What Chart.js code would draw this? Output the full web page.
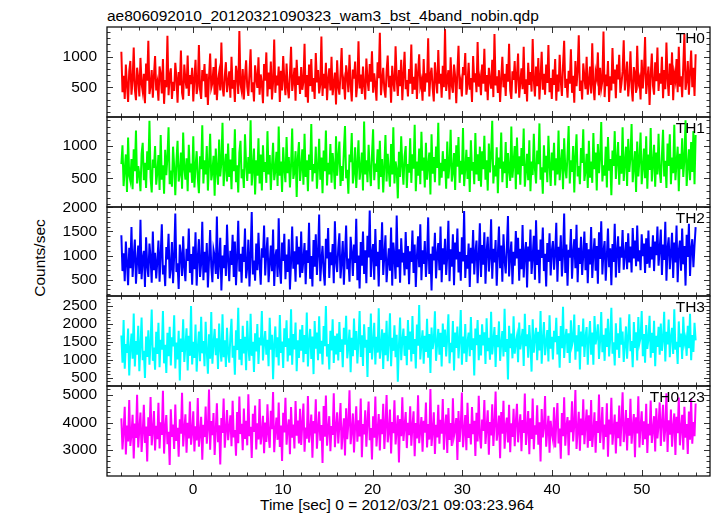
<!DOCTYPE html>
<html>
<head>
<meta charset="utf-8">
<script src="https://cdn.jsdelivr.net/npm/chart.js@4.4.1/dist/chart.umd.min.js"></script>
<style>
    body { margin: 0; background: #fff; }
    #wrap { position: relative; width: 717px; height: 516px; overflow: hidden; background: #fff;
            font-family: "Liberation Sans", Arial, Helvetica, sans-serif; font-size: 15.5px; color: #000; }
    #wrap canvas { position: absolute; left: 0; }
    .txt { position: absolute; line-height: 15.5px; white-space: nowrap; }
</style>
</head>
<body>
<div id="wrap">
    <div class="txt" style="left:107px; top:8px;">ae806092010_20120321090323_wam3_bst_4band_nobin.qdp</div>
    <div class="txt" style="left:40px; top:258px; transform: translate(-50%, -50%) rotate(-90deg);">Counts/sec</div>
    <div class="txt" style="left:260px; top:497px;">Time [sec] 0 = 2012/03/21 09:03:23.964</div>
</div>
<script>
// time axis: samples spread evenly from -8 s to 56 s
const tStart = -8;
const tEnd = 56;
const xMin = -9.6;
const xMax = 57.6;
const xTicks = [0, 10, 20, 30, 40, 50];

const panelNames = ['TH0', 'TH1', 'TH2', 'TH3', 'TH0123'];
const panelColors = ['#ff0000', '#00ff00', '#0000ff', '#00ffff', '#ff00ff'];

// count rates (counts/sec) per band
const th0Rate = [
    1080, 420, 690, 310, 870, 540, 260, 760, 930, 380, 610, 1150, 470, 290, 820, 650, 350, 980, 560, 430, 720, 240, 890, 610, 1260, 390, 520, 780, 330, 690, 1010, 450,
    570, 280, 840, 710, 400, 960, 230, 620, 500, 1340, 370, 680, 810, 310, 590, 440, 900, 660, 250, 750, 530, 1100, 410, 300, 870, 620, 480, 1020, 360, 700, 550, 820,
    270, 640, 950, 390, 520, 1190, 460, 310, 780, 600, 880, 340, 720, 210, 660, 1050, 490, 570, 830, 380, 970, 290, 610, 740, 450, 1230, 520, 350, 680, 910, 420, 590,
    760, 330, 1000, 480, 620, 260, 850, 700, 390, 1420, 550, 440, 800, 300, 670, 940, 510, 360, 730, 1120, 420, 580, 270, 860, 650, 490, 990, 380, 710, 560, 240, 880,
    610, 1070, 350, 740, 470, 920, 300, 580, 1280, 410, 690, 530, 840, 260, 770, 450, 1010, 620, 370, 890, 500, 320, 710, 1160, 440, 600, 820, 280, 950, 540, 680, 390,
    830, 460, 590, 1210, 340, 700, 250, 870, 520, 960, 430, 650, 310, 1060, 580, 780, 400, 540, 1330, 360, 720, 480, 900, 290, 630, 810, 450, 1000, 370, 560, 740, 220,
    940, 510, 380, 720, 1140, 470, 600, 300, 860, 690, 420, 1030, 550, 270, 790, 640, 920, 340, 570, 1250, 480, 710, 390, 840, 530, 300, 970, 620, 440, 880, 590, 1090,
    410, 730, 540, 280, 910, 650, 1390, 370, 600, 820, 460, 330, 760, 1020, 500, 690, 250, 850, 580, 430, 1170, 640, 360, 780, 520, 950, 290, 700, 1080, 470, 620, 350,
    800, 560, 1200, 390, 670, 460, 890, 310, 740, 1040, 520, 610, 280, 960, 430, 730, 580, 1300, 350, 690, 820, 490, 270, 910, 640, 400, 1110, 560, 720, 330, 850, 500,
    1450, 440, 620, 780, 300, 990, 530, 410, 870, 680, 240, 760, 1180, 470, 590, 350, 830, 700, 1060, 380, 550, 900, 460, 650, 260, 1010, 580, 730, 420, 1240, 510, 640,
    370, 870, 560, 1130, 430, 700, 290, 820, 610, 480, 950, 340, 1370, 530, 680, 410, 780, 260, 640, 1000, 500, 720, 360, 880, 590, 1210, 450, 310, 760, 620, 930, 400,
    690, 1050, 330, 580, 810, 470, 1160, 390, 630, 270, 900, 540, 750, 430, 1290, 610, 350, 840, 520, 980, 300, 660, 1080, 460, 720, 380, 870, 570, 1190, 420, 650, 310,
    790, 540, 960, 280, 710, 430, 1030, 600, 360, 860, 1260, 490, 640, 330, 770, 560, 1120, 410, 690, 250, 930, 520, 780, 1350, 440, 610, 300, 890, 670, 470, 1000, 380,
    580, 840, 400, 1220, 530, 290, 750, 650, 1070, 370, 820, 480, 600, 1410, 340, 710, 520, 930, 260, 680, 450, 1140, 560, 790, 320, 870, 630, 1030, 410, 560, 760, 1270,
    450, 680, 920, 350, 610, 1090, 500, 270, 830, 720, 410, 1180, 560, 640, 300, 950, 480, 760, 1320, 390, 620, 840, 210, 700, 1050, 530, 380, 910, 600, 1150, 440, 730,
    560, 1000, 320, 780, 470, 1230, 640, 360, 890, 540, 1070, 290, 720, 610, 960, 420, 1160, 510, 680, 340, 850, 1380, 460, 600, 930, 380, 740, 1100, 500, 820, 360, 1040
];
const th1Rate = [
    720, 1010, 380, 640, 870, 290, 1130, 540, 460, 800, 330, 950, 610, 1240, 420, 690, 560, 300, 880, 1050, 470, 740, 350, 920, 630, 1390, 510, 280, 790, 660, 1000, 400,
    590, 860, 320, 1170, 480, 700, 260, 940, 550, 830, 1290, 410, 620, 370, 990, 680, 240, 760, 1080, 450, 570, 900, 340, 1210, 650, 480, 810, 300, 1020, 590, 730, 430,
    1150, 360, 680, 920, 510, 270, 840, 640, 1320, 420, 780, 560, 1000, 310, 710, 1190, 470, 590, 850, 230, 960, 620, 400, 1100, 530, 740, 1360, 380, 670, 880, 450, 1040,
    520, 790, 330, 970, 610, 1260, 440, 700, 280, 900, 1080, 500, 640, 350, 1180, 720, 460, 830, 570, 1400, 390, 650, 960, 250, 780, 540, 1120, 420, 870, 310, 1010, 600,
    750, 430, 1230, 560, 860, 320, 690, 1050, 470, 620, 910, 380, 1300, 540, 760, 290, 980, 640, 440, 1140, 580, 830, 360, 700, 1270, 490, 600, 920, 210, 810, 1060, 460,
    670, 950, 400, 1190, 520, 780, 300, 870, 630, 1340, 450, 720, 580, 990, 340, 660, 1110, 480, 820, 270, 930, 610, 1240, 390, 740, 560, 1030, 430, 890, 680, 330, 1150,
    540, 820, 1070, 380, 690, 460, 940, 1310, 500, 630, 260, 870, 750, 1200, 420, 590, 980, 350, 720, 1090, 480, 640, 900, 310, 1380, 560, 780, 440, 1020, 650, 380, 860,
    1260, 470, 730, 600, 950, 330, 1080, 520, 800, 280, 690, 1170, 450, 880, 610, 370, 1030, 560, 1290, 420, 760, 640, 190, 910, 520, 1150, 690, 400, 840, 1000, 350, 720,
    590, 1120, 430, 870, 650, 1330, 300, 760, 540, 960, 410, 1220, 620, 820, 360, 1050, 480, 700, 900, 250, 1180, 570, 830, 440, 990, 660, 1360, 390, 740, 510, 920, 610,
    800, 340, 1070, 500, 710, 1250, 450, 600, 890, 320, 1010, 680, 1140, 430, 770, 560, 1280, 380, 650, 940, 490, 830, 290, 1090, 620, 750, 410, 1200, 560, 870, 460, 990,
    370, 920, 640, 1160, 480, 780, 310, 1040, 590, 860, 1390, 420, 700, 530, 980, 270, 820, 650, 1210, 440, 760, 580, 1060, 350, 890, 630, 460, 1300, 510, 740, 1000, 330,
    1130, 560, 840, 400, 970, 690, 1270, 370, 610, 880, 470, 1090, 300, 760, 550, 1190, 640, 420, 930, 720, 1350, 480, 670, 260, 1010, 590, 850, 440, 1160, 700, 380, 900,
    620, 1050, 390, 810, 560, 1240, 470, 730, 950, 330, 1120, 650, 500, 870, 1310, 420, 780, 600, 1000, 280, 840, 1180, 530, 690, 410, 970, 740, 1260, 460, 620, 880, 350,
    1080, 510, 760, 430, 1200, 640, 900, 310, 1030, 580, 820, 1370, 450, 700, 540, 990, 360, 1140, 620, 800, 240, 930, 690, 1230, 490, 770, 1060, 400, 850, 570, 1290, 460,
    740, 990, 380, 1110, 600, 830, 1340, 440, 680, 920, 290, 1070, 530, 790, 1210, 410, 660, 960, 500, 1150, 340, 870, 630, 1280, 450, 720, 1020, 370, 900, 560, 1190, 620,
    430, 860, 1250, 530, 770, 350, 1040, 690, 1180, 410, 820, 580, 1330, 470, 740, 990, 300, 880, 640, 1120, 520, 790, 1400, 380, 680, 950, 470, 1060, 600, 1230, 410, 1170
];
const th2Rate = [
    1420, 680, 1050, 470, 1290, 850, 390, 1160, 740, 1590, 560, 980, 1330, 420, 870, 1210, 620, 1740, 510, 940, 1100, 350, 1380, 790, 560, 1250, 960, 440, 1500, 700, 1060, 530,
    880, 1310, 460, 1020, 1650, 610, 800, 370, 1180, 920, 1450, 530, 740, 1280, 430, 990, 1870, 660, 840, 310, 1230, 1010, 580, 1400, 760, 470, 1140, 890, 1560, 640, 1030, 400,
    1190, 720, 1480, 380, 960, 1340, 560, 830, 1700, 490, 1080, 650, 1260, 340, 910, 1530, 770, 450, 1120, 990, 620, 1810, 520, 860, 1370, 280, 1000, 740, 1220, 580, 1640, 900,
    470, 1100, 810, 1430, 560, 1290, 390, 950, 1720, 670, 1040, 440, 1180, 870, 1560, 530, 760, 1330, 360, 1010, 1900, 610, 900, 480, 1250, 700, 1470, 820, 400, 1150, 960, 1620,
    590, 1060, 1380, 450, 830, 1210, 680, 1540, 370, 980, 1130, 560, 1770, 740, 420, 1270, 890, 1450, 510, 1020, 660, 1340, 300, 870, 1600, 730, 1090, 460, 1400, 820, 1180, 550,
    1500, 640, 920, 1260, 410, 1110, 850, 1680, 520, 990, 360, 1320, 770, 1440, 600, 1050, 1850, 470, 900, 1200, 680, 380, 1350, 940, 1570, 540, 1070, 800, 1240, 430, 1710, 870,
    660, 1160, 1460, 530, 880, 1300, 400, 1020, 1620, 720, 940, 460, 1390, 1080, 580, 1230, 850, 1760, 490, 1000, 320, 1280, 790, 1500, 620, 1110, 430, 1410, 960, 1930, 560, 1040,
    1240, 500, 1550, 780, 1080, 360, 1320, 910, 1690, 600, 1000, 1420, 450, 840, 1150, 690, 1580, 380, 1270, 980, 520, 1830, 760, 1130, 440, 1360, 860, 1060, 590, 1490, 720, 1200,
    410, 1090, 870, 1520, 640, 1230, 350, 990, 1400, 760, 1650, 490, 1110, 830, 1300, 560, 950, 1790, 620, 1040, 280, 1190, 900, 1470, 530, 1020, 1260, 700, 1600, 450, 1150, 820,
    1350, 600, 1000, 1720, 470, 1130, 770, 1440, 390, 1270, 920, 1560, 650, 1080, 480, 1380, 880, 1920, 540, 1010, 730, 1250, 350, 1160, 840, 1530, 610, 1060, 1310, 430, 990, 1670,
    560, 1220, 810, 1480, 420, 1090, 1390, 670, 970, 1750, 520, 1140, 860, 1320, 380, 1030, 1600, 740, 1210, 460, 1440, 900, 630, 1170, 1820, 570, 1000, 1290, 410, 1080, 790, 1510,
    940, 1370, 480, 1140, 720, 1630, 550, 1060, 1280, 340, 1190, 880, 1540, 620, 980, 1410, 500, 1730, 810, 1120, 430, 1330, 950, 1580, 680, 1040, 360, 1260, 870, 1460, 590, 1100,
    1300, 710, 1050, 1680, 460, 1180, 890, 1420, 570, 1010, 1870, 640, 1230, 380, 1120, 960, 1550, 520, 1070, 1340, 740, 1640, 450, 1160, 830, 1390, 600, 1020, 1500, 700, 1260, 430,
    1130, 820, 1590, 540, 1040, 1360, 690, 1200, 420, 1480, 930, 1710, 610, 1090, 1300, 480, 1000, 1560, 760, 1150, 390, 1240, 870, 1660, 550, 1080, 1400, 640, 1190, 960, 1530, 710,
    1020, 1280, 720, 1460, 860, 1190, 650, 1570, 940, 1310, 780, 1620, 880, 1110, 700, 1440, 990, 1250, 640, 1360, 830, 1520, 750, 1180, 920, 1420, 680, 1290, 1010, 1600, 790, 1140,
    1540, 600, 1230, 910, 1700, 480, 1150, 1380, 720, 1050, 1470, 540, 1270, 860, 1620, 450, 1100, 1310, 690, 1560, 820, 1200, 380, 1430, 970, 1660, 580, 1140, 1340, 760, 1210, 1590
];
const th3Rate = [
    1680, 920, 2110, 750, 1440, 1190, 1870, 560, 1310, 1730, 1030, 2290, 810, 1520, 1140, 1950, 680, 1400, 2180, 990, 1250, 490, 1650, 1080, 1820, 860, 1490, 2400, 970, 1340, 720, 1780,
    1160, 2030, 790, 1560, 1280, 2360, 900, 1420, 630, 1750, 1100, 1920, 840, 1630, 1370, 2240, 760, 1480, 1010, 1810, 420, 1590, 1220, 2130, 940, 1390, 1880, 700, 1670, 1110, 2500, 870,
    1500, 1050, 1980, 670, 1330, 1790, 960, 2200, 1180, 1520, 820, 2060, 1240, 610, 1710, 1030, 2330, 890, 1450, 1860, 1130, 1600, 740, 2010, 1300, 950, 2270, 1070, 1540, 800, 1890, 1200,
    920, 1660, 2140, 1060, 1390, 580, 1820, 1270, 2450, 1000, 1580, 850, 1950, 1180, 1640, 710, 2090, 1350, 970, 2280, 1110, 1500, 660, 1740, 1230, 2000, 880, 1620, 1400, 2360, 980, 1470,
    1800, 1140, 1560, 820, 2170, 1280, 1700, 460, 1450, 1930, 1070, 1630, 840, 2250, 1190, 1510, 770, 1880, 1360, 2100, 950, 1600, 1120, 2410, 860, 1720, 1290, 2040, 680, 1540, 1050, 1840,
    1250, 1970, 930, 1690, 1160, 2320, 810, 1490, 1860, 1020, 1650, 600, 2080, 1310, 1760, 990, 2210, 1170, 1530, 870, 1940, 1380, 2500, 1090, 1440, 730, 1810, 1260, 2130, 910, 1670, 1150,
    1730, 980, 2050, 1220, 1570, 790, 1890, 1420, 2230, 1040, 1360, 1840, 650, 1610, 1100, 2150, 1270, 1800, 900, 1510, 2360, 1080, 1680, 830, 1990, 1340, 1560, 520, 1910, 1190, 2290, 1010,
    1460, 2030, 870, 1640, 1200, 2440, 1030, 1370, 1850, 740, 1750, 1130, 2090, 960, 1500, 2300, 820, 1610, 1250, 1960, 1070, 1700, 390, 1420, 2180, 990, 1540, 1870, 1110, 1660, 850, 2110,
    1280, 1790, 950, 2220, 1160, 1580, 760, 1980, 1390, 2530, 1010, 1450, 1820, 890, 1670, 1220, 2140, 1060, 1720, 630, 1900, 1300, 1530, 2350, 970, 1440, 1860, 1140, 1750, 810, 2010, 1360,
    1840, 1090, 1620, 2270, 900, 1470, 1210, 2080, 700, 1760, 1330, 1930, 1040, 1560, 2390, 860, 1650, 1180, 2000, 940, 1500, 1760, 1100, 2190, 1270, 1600, 560, 1870, 1410, 2110, 990, 1700,
    1120, 1990, 1400, 1770, 880, 2160, 1240, 1610, 1000, 2340, 1150, 1520, 1910, 800, 1690, 1350, 2070, 970, 1460, 1800, 1090, 2420, 1220, 1580, 450, 1950, 1320, 1730, 1040, 2210, 1170, 1500,
    1670, 930, 2040, 1290, 1550, 1860, 830, 2280, 1380, 1710, 1060, 1970, 1440, 670, 2130, 1200, 1620, 1890, 990, 1780, 1260, 2360, 890, 1560, 2050, 1130, 1480, 1830, 950, 2240, 1310, 1640,
    1010, 1810, 1490, 2170, 1150, 1660, 780, 1940, 1320, 2480, 1050, 1590, 1860, 1190, 1740, 910, 2100, 1400, 1540, 2260, 1000, 1680, 1230, 1970, 730, 1790, 1370, 2150, 1080, 1630, 1910, 860,
    1580, 2080, 1140, 1760, 860, 2220, 1430, 1650, 1990, 1020, 1530, 2330, 1210, 1700, 970, 1880, 1360, 2140, 1090, 1600, 2450, 1170, 1490, 840, 2020, 1280, 1740, 1050, 2180, 1420, 1790, 940,
    1400, 1930, 1030, 1650, 2270, 1240, 1520, 790, 2050, 1330, 1770, 980, 2190, 1460, 1610, 2360, 1100, 1720, 920, 1970, 1300, 1580, 2230, 1060, 1750, 1190, 2090, 820, 1670, 1360, 1920, 1140,
    2010, 1250, 1560, 2340, 950, 1780, 1430, 2120, 1070, 1640, 1890, 1160, 2410, 1280, 1500, 880, 2070, 1350, 1730, 1020, 2200, 1460, 1600, 1110, 1950, 1320, 2280, 990, 1690, 1220, 2030, 1540
];
const th0123Rate = [
    4150, 3020, 3680, 4570, 2840, 3890, 3310, 4820, 3150, 3570, 4280, 2690, 3960, 3440, 5010, 3090, 3750, 4360, 2930, 3620, 4640, 3260, 3850, 2580, 4190, 3510, 4930, 3170, 3700, 4420, 2980, 3880,
    3390, 4720, 3060, 4010, 3550, 5150, 2870, 3790, 4270, 3210, 3660, 2460, 4480, 3480, 3930, 3040, 4650, 3330, 3810, 2760, 4120, 3590, 5080, 3130, 3720, 4300, 2900, 3990, 3420, 4760, 3190, 3640,
    4410, 2950, 3860, 3350, 4890, 3120, 3600, 4210, 2650, 3920, 3470, 4580, 3230, 3780, 5200, 3010, 4050, 3540, 4340, 2820, 3740, 4700, 3280, 3900, 2470, 4160, 3620, 4870, 3080, 3710, 4450, 3360,
    3810, 4260, 3140, 4790, 3460, 3730, 2790, 4380, 3250, 4940, 3580, 3950, 2990, 4510, 3400, 4060, 3170, 5030, 3500, 3840, 2710, 4320, 3660, 4620, 3020, 3970, 3380, 4850, 3200, 3600, 4240, 2880,
    4000, 3290, 4660, 3560, 3080, 4430, 3760, 5110, 2920, 3690, 4180, 3370, 4730, 3110, 3890, 2600, 4350, 3640, 4900, 3190, 3780, 4110, 2850, 4560, 3450, 3930, 3060, 4780, 3520, 4070, 3240, 4500,
    3180, 3950, 4690, 2940, 3820, 3410, 4960, 3270, 3690, 4290, 2720, 4050, 3600, 4840, 3050, 3770, 4400, 3340, 3910, 2530, 4600, 3480, 4980, 3160, 3750, 4230, 2960, 3870, 3550, 5060, 3100, 3830,
    4370, 3240, 3890, 4710, 3020, 3640, 4150, 2800, 4520, 3390, 3960, 5170, 3210, 3700, 4330, 2910, 3850, 4590, 3300, 4080, 3490, 4870, 2740, 3940, 3570, 4440, 3120, 4010, 4760, 3360, 3800, 2660,
    4230, 3450, 4940, 3130, 3720, 4310, 2980, 4120, 3580, 4680, 3040, 3880, 5000, 3280, 3670, 4470, 2870, 4020, 3610, 4810, 3200, 3760, 4260, 2550, 4130, 3500, 4920, 3330, 3860, 4380, 3070, 3990,
    3540, 4590, 3160, 3870, 4410, 2770, 3980, 3420, 4990, 3250, 3710, 4200, 2940, 4060, 3630, 4730, 3090, 3940, 3380, 5220, 3150, 3690, 4370, 2860, 3920, 3460, 4640, 3230, 4100, 3590, 4850, 3010,
    3820, 4290, 2890, 4530, 3370, 3980, 3150, 4880, 3510, 3740, 4160, 2640, 4420, 3290, 3880, 5090, 3100, 3660, 4270, 2990, 4720, 3440, 3950, 3200, 4560, 3580, 4060, 2780, 4350, 3310, 4970, 3520,
    3060, 4110, 3690, 4820, 3220, 3800, 4440, 2830, 4020, 3530, 4660, 3150, 3920, 5130, 3340, 3710, 4250, 2700, 4380, 3590, 4790, 3050, 3860, 4180, 3270, 4640, 2920, 3970, 3480, 4500, 3140, 4030,
    4680, 3280, 3850, 4300, 2960, 4090, 3620, 5050, 3180, 3770, 4420, 2850, 4150, 3400, 4870, 3030, 3900, 3560, 4630, 3190, 4010, 2580, 4490, 3460, 3830, 4960, 3120, 3700, 4240, 2900, 4060, 3610,
    3370, 4550, 3090, 3960, 4710, 3240, 3780, 2680, 4340, 3500, 4920, 3160, 3850, 4200, 2810, 4080, 3650, 4770, 3310, 3910, 5180, 3040, 3720, 4390, 2970, 4140, 3540, 4840, 3210, 3890, 4470, 3080,
    4260, 3330, 4820, 3110, 3690, 4370, 2900, 4050, 3620, 5020, 3260, 3800, 4560, 3020, 3930, 3480, 4700, 2760, 4110, 3570, 4900, 3190, 3760, 4290, 2870, 4030, 3430, 4620, 3140, 3980, 5100, 3290,
    3710, 4450, 2980, 4160, 3520, 4860, 3230, 3840, 4310, 2740, 4190, 3600, 4950, 3090, 3870, 4410, 3180, 4040, 3390, 4680, 2890, 3950, 3530, 4800, 3260, 3740, 4230, 2950, 4520, 3420, 3900, 4730,
    3150, 3990, 4640, 3300, 3760, 5060, 2930, 4080, 3560, 4470, 3120, 3860, 4330, 2820, 4210, 3610, 4910, 3170, 3790, 4280, 3010, 4570, 3450, 3940, 2860, 4400, 3370, 4850, 3230, 4020, 3500, 4690
];
const panelRates = [th0Rate, th1Rate, th2Rate, th3Rate, th0123Rate];

// y ranges and tick labels per panel
const yMins = [15, 56, 165, 268, 2055];
const yMaxs = [1485, 1449, 2005, 2779, 5327];
const th0Ticks = [500, 1000];
const th1Ticks = [500, 1000];
const th2Ticks = [500, 1000, 1500, 2000];
const th3Ticks = [500, 1000, 1500, 2000, 2500];
const th0123Ticks = [3000, 4000, 5000];
const panelTicks = [th0Ticks, th1Ticks, th2Ticks, th3Ticks, th0123Ticks];
const minorSteps = [100, 100, 100, 100, 200];

// page layout (px)
const plotLeft = 107;
const plotRight = 710;
const panelTops = [27, 117, 207, 296, 386];
const plotBottom = 476;
const fontSpec = { family: '"Liberation Sans", Arial, sans-serif', size: 15.5 };

// QDP-style frame: border plus inward ticks on all four sides
const qdpFrame = {
    id: 'qdpFrame',
    afterDatasetsDraw(chart, args, opts) {
        const ctx = chart.ctx;
        const a = chart.chartArea;
        const xs = chart.scales.x;
        const ys = chart.scales.y;
        ctx.save();
        ctx.strokeStyle = '#333';
        ctx.lineWidth = 1;
        ctx.beginPath();
        // x ticks, minor every 2 s and major every 10 s
        for (let t = -8; t <= 56; t += 2) {
            const px = Math.round(xs.getPixelForValue(t)) + 0.5;
            const len = (t % 10 === 0) ? 6 : 3.5;
            ctx.moveTo(px, a.bottom); ctx.lineTo(px, a.bottom - len);
            ctx.moveTo(px, a.top); ctx.lineTo(px, a.top + len);
        }
        // y ticks
        const step = opts.minor;
        const major = opts.majorStep;
        for (let v = Math.ceil(ys.min / step) * step; v <= ys.max; v += step) {
            const py = Math.round(ys.getPixelForValue(v)) + 0.5;
            const len = (v % major === 0) ? 6 : 3.5;
            ctx.moveTo(a.left, py); ctx.lineTo(a.left + len, py);
            ctx.moveTo(a.right, py); ctx.lineTo(a.right - len, py);
        }
        ctx.stroke();
        ctx.lineWidth = 1.3;
        ctx.strokeStyle = '#111';
        ctx.strokeRect(a.left, a.top, a.right - a.left, a.bottom - a.top);
        ctx.restore();
    }
};

function makePanel(i) {
    const wrap = document.getElementById('wrap');
    const top = panelTops[i];
    const bottom = i < 4 ? panelTops[i + 1] : plotBottom;
    const isLast = i === panelTops.length - 1;
    const padTop = 24;
    const xAxisH = isLast ? 36 : 24;

    const canvas = document.createElement('canvas');
    canvas.width = 717;
    canvas.height = padTop + (bottom - top) + xAxisH;
    canvas.style.top = (top - padTop) + 'px';
    wrap.appendChild(canvas);

    const label = document.createElement('div');
    label.className = 'txt';
    label.style.right = '12px';
    label.style.top = (top + 3) + 'px';
    label.textContent = panelNames[i];

    const rates = panelRates[i];
    const step = (tEnd - tStart) / (rates.length - 1);
    const points = rates.map((v, k) => ({ x: tStart + k * step, y: v }));
    const majorStep = panelTicks[i][1] - panelTicks[i][0];

    new Chart(canvas, {
        type: 'line',
        data: {
            datasets: [{
                data: points,
                borderColor: panelColors[i],
                borderWidth: 2,
                pointRadius: 0,
                tension: 0,
                fill: false
            }]
        },
        options: {
            responsive: false,
            devicePixelRatio: 1,
            animation: false,
            events: [],
            layout: { padding: { top: padTop, right: 717 - plotRight, left: 0, bottom: 0 } },
            plugins: {
                legend: { display: false },
                tooltip: { enabled: false },
                qdpFrame: { minor: minorSteps[i], majorStep: majorStep }
            },
            scales: {
                x: {
                    type: 'linear',
                    min: xMin,
                    max: xMax,
                    afterBuildTicks: s => { s.ticks = xTicks.map(v => ({ value: v })); },
                    afterFit: s => { s.height = xAxisH; },
                    ticks: { display: isLast, color: '#000', font: fontSpec, padding: 4, maxRotation: 0, autoSkip: false },
                    grid: { display: false, drawTicks: false },
                    border: { display: false }
                },
                y: {
                    type: 'linear',
                    min: yMins[i],
                    max: yMaxs[i],
                    afterBuildTicks: s => { s.ticks = panelTicks[i].map(v => ({ value: v })); },
                    afterFit: s => { s.width = plotLeft; },
                    ticks: { color: '#000', font: fontSpec, padding: 10, callback: v => String(v) },
                    grid: { display: false, drawTicks: false },
                    border: { display: false }
                }
            }
        },
        plugins: [qdpFrame]
    });
    wrap.appendChild(label);
}

for (let i = 0; i < panelNames.length; i++) makePanel(i);
</script>
</body>
</html>
